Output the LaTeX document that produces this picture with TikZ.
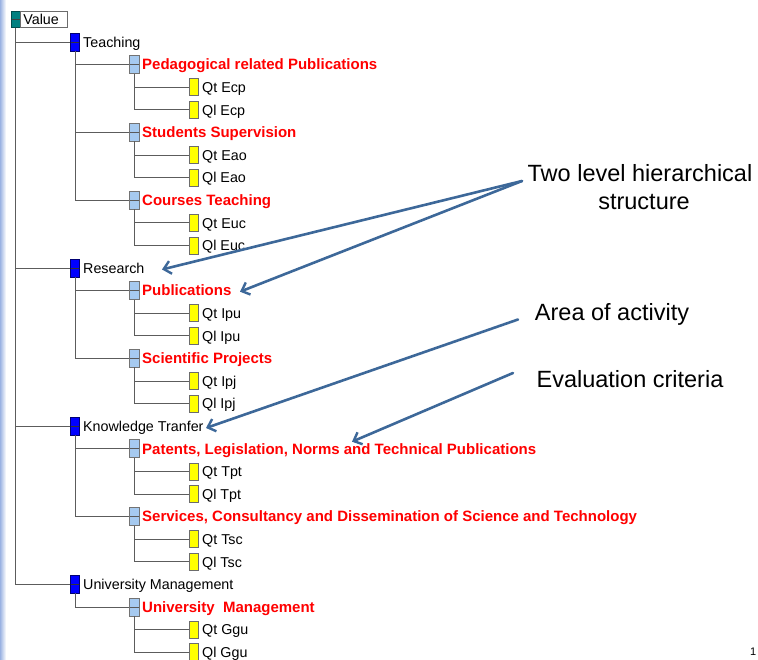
\documentclass[tikz,border=0pt]{standalone}
\usepackage{fontspec}
\setmainfont{Liberation Sans}
\usetikzlibrary{arrows.meta}
\definecolor{rootc}{HTML}{008080}
\definecolor{areac}{HTML}{0000FF}
\definecolor{critc}{HTML}{A6CAF0}
\definecolor{leafc}{HTML}{FFFF00}
\definecolor{redc}{HTML}{FF0000}
\definecolor{arrowc}{HTML}{3D6899}
\definecolor{linec}{HTML}{5C5C5C}
\definecolor{stripc}{HTML}{9AB2E2}
\newcommand\mkarea[3]{\node[areabox] (#1) at (75,#2) {};\node[lbl] (#1t) at (83,{#2+5.3}) {#3};}
\newcommand\mkcrit[3]{\node[critbox] (#1) at (134.2,#2) {};\node[lbl,redtxt] (#1t) at (142,{#2+5.2}) {#3};}
\newcommand\mkleaf[3]{\node[leafbox] (#1) at (193.5,#2) {};\node[lbl] (#1t) at (202,{#2+5.3}) {#3};}
\begin{document}
\begin{tikzpicture}[x=1pt,y=-1pt,
  boxbase/.style={minimum width=9.5pt,minimum height=18pt,inner sep=0pt,outer sep=0pt,line width=0.7pt},
  dashin/.style={path picture={\draw[#1,line width=0.8pt] (path picture bounding box.west) -- (path picture bounding box.east);}},
  rootbox/.style={boxbase,minimum width=8.5pt,minimum height=16.5pt,fill=rootc,draw=rootc!60!black,dashin=black!75},
  areabox/.style={boxbase,fill=areac,draw=areac!45!black,dashin=black!80},
  critbox/.style={boxbase,minimum width=10pt,fill=critc,draw=gray!90!black,dashin=gray!70!black},
  leafbox/.style={boxbase,minimum width=9pt,minimum height=17pt,fill=leafc,draw=gray!85!black},
  lbl/.style={anchor=base west,inner sep=0pt,font=\fontsize{14.3}{16}\selectfont},
  redtxt/.style={text=redc,font=\fontsize{15}{16}\selectfont\bfseries},
  conn/.style={draw=linec,line width=0.9pt},
  note/.style={anchor=base,inner sep=0pt,font=\fontsize{23.5}{28}\selectfont},
  arr/.style={draw=arrowc,line width=2.6pt,line cap=round,-{Straight Barb[length=7pt,width=13pt,line width=2.4pt]}}]
\useasboundingbox (0,0) rectangle (758,660);
\fill[left color=stripc,right color=white] (0,0) rectangle (6,660);
% root
\node[rootbox] (root) at (15.75,19.6) {};
\node[anchor=west,draw=gray!85!black,fill=white,line width=0.7pt,minimum height=16.5pt,text width=41pt,inner xsep=3pt,inner ysep=0pt,font=\fontsize{14.3}{16}\selectfont] (vlab) at (root.east) {Value};
% Teaching
\mkarea{a1}{42}{Teaching}
\mkcrit{c11}{64.6}{Pedagogical related Publications}
\mkleaf{q111}{87.2}{Qt Ecp}
\mkleaf{q112}{109.8}{Ql Ecp}
\mkcrit{c12}{132.4}{Students Supervision}
\mkleaf{q121}{155}{Qt Eao}
\mkleaf{q122}{177.6}{Ql Eao}
\mkcrit{c13}{200.2}{Courses Teaching}
\mkleaf{q131}{222.8}{Qt Euc}
\mkleaf{q132}{245.4}{Ql Euc}
% Research
\mkarea{a2}{268}{Research}
\mkcrit{c21}{290.6}{Publications}
\mkleaf{q211}{313.2}{Qt Ipu}
\mkleaf{q212}{335.8}{Ql Ipu}
\mkcrit{c22}{358.4}{Scientific Projects}
\mkleaf{q221}{381}{Qt Ipj}
\mkleaf{q222}{403.6}{Ql Ipj}
% Knowledge
\mkarea{a3}{426.2}{Knowledge Tranfer}
\mkcrit{c31}{448.8}{Patents, Legislation, Norms and Technical Publications}
\mkleaf{q311}{471.4}{Qt Tpt}
\mkleaf{q312}{494}{Ql Tpt}
\mkcrit{c32}{516.6}{Services, Consultancy and Dissemination of Science and Technology}
\mkleaf{q321}{539.2}{Qt Tsc}
\mkleaf{q322}{561.8}{Ql Tsc}
% University
\mkarea{a4}{584.4}{University Management}
\mkcrit{c41}{607}{University\ \ Management}
\mkleaf{q411}{629.6}{Qt Ggu}
\mkleaf{q412}{652.2}{Ql Ggu}
% connectors
\foreach \a in {a1,a2,a3,a4} \draw[conn] (root.south) |- (\a.west);
\foreach \c in {c11,c12,c13} \draw[conn] (a1.south) |- (\c.west);
\foreach \c in {c21,c22} \draw[conn] (a2.south) |- (\c.west);
\foreach \c in {c31,c32} \draw[conn] (a3.south) |- (\c.west);
\draw[conn] (a4.south) |- (c41.west);
\foreach \c/\q in {11/111,11/112,12/121,12/122,13/131,13/132,21/211,21/212,22/221,22/222,31/311,31/312,32/321,32/322,41/411,41/412}
  \draw[conn] (c\c.south) |- (q\q.west);
% notes
\node[note] (n1) at (640,181.7) {Two level hierarchical};
\node[note] (n1b) at (644,210) {structure};
\node[note] (n2) at (612,320.7) {Area of activity};
\node[note] (n3) at (630,387.3) {Evaluation criteria};
\coordinate (s1) at (522,181);
\coordinate (s2) at (518,319.5);
\coordinate (s3) at (513,373);
\coordinate (t1) at (162,269.5);
\coordinate (t2) at (240,291.7);
\coordinate (t3) at (206,428);
\coordinate (t4) at (352,441.7);
\draw[arr] (s1) -- (t1);
\draw[arr] (s1) -- (t2);
\draw[arr] (s2) -- (t3);
\draw[arr] (s3) -- (t4);
\node[anchor=north west,inner sep=0pt,font=\fontsize{11}{12}\selectfont] (pg) at (750,648) {1};
\end{tikzpicture}
\end{document}
